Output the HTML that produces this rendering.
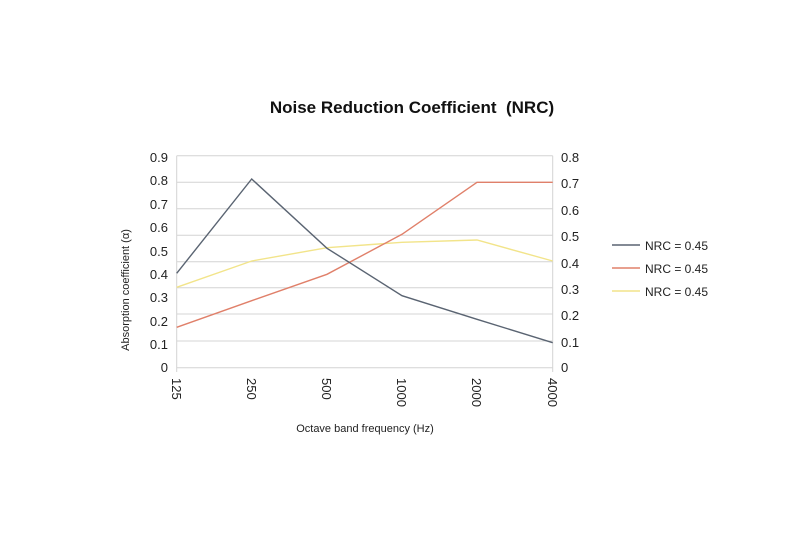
<!DOCTYPE html><html><head><meta charset="utf-8"><style>body{margin:0;background:#fff}svg{display:block;font-family:"Liberation Sans",sans-serif}</style></head><body>
<svg width="800" height="533" viewBox="0 0 800 533">
<text x="412" y="113" font-size="17" font-weight="bold" text-anchor="middle" fill="#111">Noise Reduction Coefficient &#160;(NRC)</text>
<g stroke="#d4d4d4" stroke-width="1">
<line x1="176.7" y1="155.7" x2="552.7" y2="155.7"/>
<line x1="176.7" y1="182.3" x2="552.7" y2="182.3"/>
<line x1="176.7" y1="208.7" x2="552.7" y2="208.7"/>
<line x1="176.7" y1="235.3" x2="552.7" y2="235.3"/>
<line x1="176.7" y1="261.7" x2="552.7" y2="261.7"/>
<line x1="176.7" y1="287.7" x2="552.7" y2="287.7"/>
<line x1="176.7" y1="314" x2="552.7" y2="314"/>
<line x1="176.7" y1="341" x2="552.7" y2="341"/>
<line x1="176.7" y1="367.7" x2="552.7" y2="367.7"/>
<line x1="176.7" y1="155.7" x2="176.7" y2="372"/>
<line x1="552.7" y1="155.7" x2="552.7" y2="372"/>
</g>
<g font-size="13" fill="#222" text-anchor="end">
<text x="168" y="162">0.9</text><text x="168" y="185">0.8</text><text x="168" y="209">0.7</text><text x="168" y="232">0.6</text><text x="168" y="256">0.5</text><text x="168" y="279">0.4</text><text x="168" y="302">0.3</text><text x="168" y="326">0.2</text><text x="168" y="349">0.1</text><text x="168" y="372">0</text>
</g>
<g font-size="13" fill="#222">
<text x="561" y="162">0.8</text><text x="561" y="188">0.7</text><text x="561" y="215">0.6</text><text x="561" y="241">0.5</text><text x="561" y="268">0.4</text><text x="561" y="294">0.3</text><text x="561" y="320">0.2</text><text x="561" y="347">0.1</text><text x="561" y="372">0</text>
</g>
<g font-size="13" fill="#222">
<text transform="translate(172,378) rotate(90)">125</text>
<text transform="translate(247,378) rotate(90)">250</text>
<text transform="translate(322,378) rotate(90)">500</text>
<text transform="translate(397,378) rotate(90)">1000</text>
<text transform="translate(472,378) rotate(90)">2000</text>
<text transform="translate(548,378) rotate(90)">4000</text>
</g>
<text x="365" y="432" font-size="11" text-anchor="middle" fill="#222">Octave band frequency (Hz)</text>
<text transform="translate(129,290) rotate(-90)" font-size="11" text-anchor="middle" fill="#222">Absorption coefficient (α)</text>
<polyline fill="none" stroke="#f2e48a" stroke-width="1.4" points="176.7,287.3 251.7,261 327,247.7 402,242.3 477,240 552.7,261"/>
<polyline fill="none" stroke="#e0806a" stroke-width="1.4" points="176.7,327.3 251.7,300.7 327,274.3 402,234.3 477,182.3 552.7,182.3"/>
<polyline fill="none" stroke="#5a6472" stroke-width="1.4" points="176.7,273.3 251.7,179 327,248.3 402,295.7 477,319.3 552.7,342.7"/>
<line x1="612" y1="245" x2="640" y2="245" stroke="#5a6472" stroke-width="1.4"/>
<line x1="612" y1="268" x2="640" y2="268" stroke="#e0806a" stroke-width="1.4"/>
<line x1="612" y1="291" x2="640" y2="291" stroke="#f2e48a" stroke-width="1.4"/>
<g font-size="12" fill="#222"><text x="645" y="250">NRC = 0.45</text><text x="645" y="273">NRC = 0.45</text><text x="645" y="296">NRC = 0.45</text></g>
</svg></body></html>
